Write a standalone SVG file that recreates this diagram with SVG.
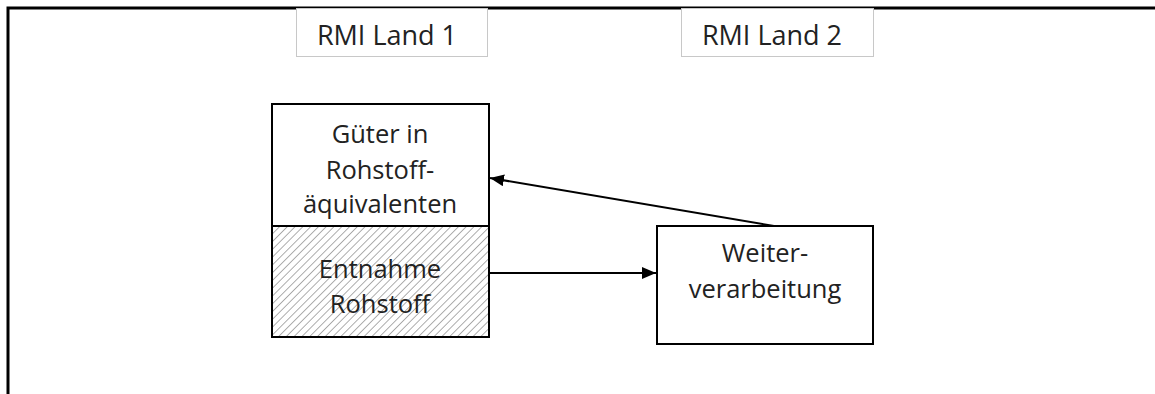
<svg xmlns="http://www.w3.org/2000/svg" width="1155" height="394" viewBox="0 0 1155 394">
<style>
.t{font-family:"Open Sans","Liberation Sans",sans-serif;font-size:25.5px;fill:#222;text-anchor:middle}
.l{font-size:27px}
.box{fill:#fff;stroke:#000;stroke-width:2}
.lbl{fill:#fff;stroke:#c8c8c8;stroke-width:1}
.c{stroke:#000;stroke-width:2;fill:none}
</style>
<defs>
<pattern id="hatch" patternUnits="userSpaceOnUse" width="5.5" height="5.5" patternTransform="rotate(45)">
<rect width="5.5" height="5.5" fill="#fff"/>
<line x1="0" y1="0" x2="0" y2="5.5" stroke="#9a9a9a" stroke-width="1.6"/>
</pattern>
<marker id="ah" markerWidth="14" markerHeight="12" refX="14" refY="6" orient="auto" markerUnits="userSpaceOnUse">
<path d="M0,0 L14,6 L0,12 Z" fill="#000"/>
</marker>
</defs>
<rect width="1155" height="394" fill="#fff"/>
<g id="frame">
<polyline points="8,394 8,8 1155,8" fill="none" stroke="#000" stroke-width="3"/>
</g>
<g id="label1">
<rect class="lbl" x="296.5" y="8.5" width="191" height="48"/>
<text class="t l" x="387" y="45">RMI Land 1</text>
</g>
<g id="label2">
<rect class="lbl" x="681.5" y="8.5" width="192" height="48"/>
<text class="t l" x="772" y="45">RMI Land 2</text>
</g>
<g id="gueter">
<rect class="box" x="272" y="104" width="217" height="122"/>
<text class="t" x="380" y="143">Güter in</text>
<text class="t" x="380" y="179">Rohstoff-</text>
<text class="t" x="380" y="213">äquivalenten</text>
</g>
<g id="entnahme">
<rect class="box" x="272" y="226" width="217" height="111" style="fill:url(#hatch)"/>
<text class="t" x="380" y="278">Entnahme</text>
<text class="t" x="380" y="313">Rohstoff</text>
</g>
<g id="weiter">
<rect class="box" x="657" y="226" width="216" height="118"/>
<text class="t" x="765" y="262">Weiter-</text>
<text class="t" x="765" y="298">verarbeitung</text>
</g>
<g id="connectors">
<line class="c" x1="490" y1="273" x2="656" y2="273" marker-end="url(#ah)"/>
<line class="c" x1="774" y1="226" x2="490" y2="178" marker-end="url(#ah)"/>
</g>
</svg>
